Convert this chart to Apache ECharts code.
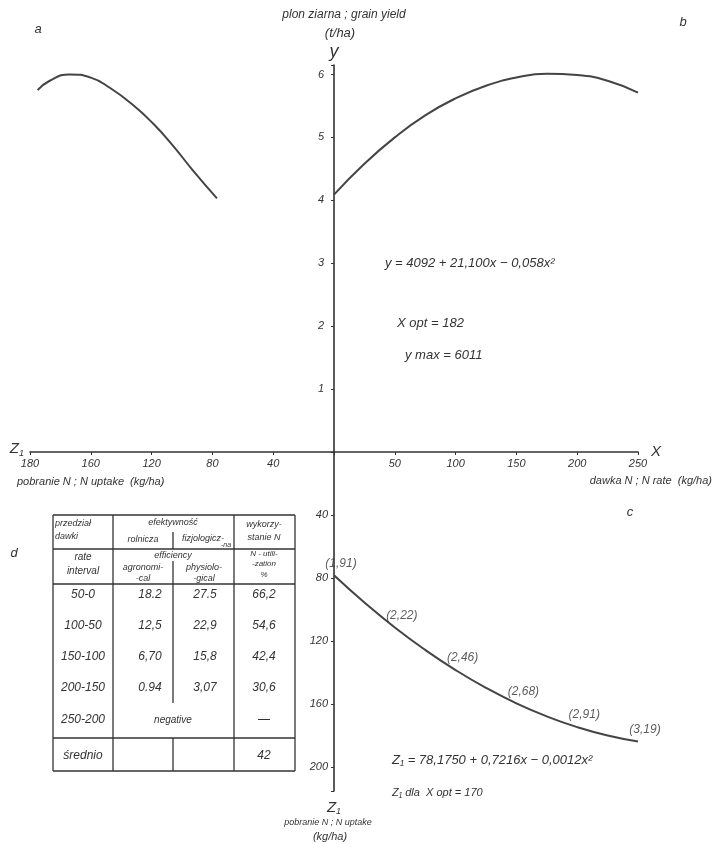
<!DOCTYPE html>
<html>
<head>
<meta charset="utf-8">
<script src="https://cdn.jsdelivr.net/npm/echarts@6/dist/echarts.min.js"></script>
<style>
html, body { margin: 0; padding: 0; background: #fff; }
#chart { width: 713px; height: 844px; }
</style>
</head>
<body>
<div id="chart"></div>
<script>
// b: grain yield (t/ha) against N rate (kg/ha)
const rateX = [0, 25, 50, 75, 100, 125, 150, 175, 200, 225, 250];
const yieldB = [4.09, 4.58, 5.00, 5.35, 5.62, 5.82, 5.95, 6.01, 5.99, 5.90, 5.71];
// a: grain yield against N uptake (kg/ha)
const uptakeA = [77, 93, 106, 119, 132, 147, 160, 174, 187, 195];
const yieldA = [4.03, 4.48, 4.87, 5.22, 5.51, 5.78, 5.95, 6.00, 5.90, 5.75];
// c: N uptake against N rate
const uptakeC = [78.2, 95.5, 111.3, 125.5, 138.3, 149.6, 159.4, 167.7, 174.5, 179.8, 183.6];
const markRate = [0, 50, 100, 150, 200, 250];
const markUptake = [78.2, 111.3, 138.3, 159.4, 174.5, 183.6];
const markText = ['(1,91)', '(2,22)', '(2,46)', '(2,68)', '(2,91)', '(3,19)'];
// tick labels
const yieldTicks = [1, 2, 3, 4, 5, 6];
const rateTicks = [50, 100, 150, 200, 250];
const uptakeTicks = [40, 80, 120, 160, 200];
const uptakeTickText = ['40', '80', '120', '160', '180'];
const zTicks = [40, 80, 120, 160, 200];
// d: table
const rateInterval = ['50-0', '100-50', '150-100', '200-150', '250-200'];
const agroEff = ['18.2', '12,5', '6,70', '0.94', ''];
const physEff = ['27.5', '22,9', '15,8', '3,07', ''];
const nUtil = ['66,2', '54,6', '42,4', '30,6', '—'];
const meanUtil = '42';

const FONT = 'Liberation Sans';
const INK = '#333';
const chart = echarts.init(document.getElementById('chart'));

function txt(x, y, text, size, align, extra) {
    return Object.assign({
        type: 'text',
        style: {
            x: x, y: y, text: text, fill: INK,
            font: 'italic ' + size + 'px "' + FONT + '"',
            align: align || 'center', verticalAlign: 'middle',
            textAlign: align || 'center', textVerticalAlign: 'middle'
        }
    }, extra || {});
}
function ln(x1, y1, x2, y2) {
    return { type: 'line', shape: { x1: x1, y1: y1, x2: x2, y2: y2 }, style: { stroke: INK, lineWidth: 1.3 } };
}
const zRich = { z: { fontSize: 15, fontStyle: 'italic', fontFamily: FONT, color: INK }, s: { fontSize: 9, fontStyle: 'italic', fontFamily: FONT, color: INK, padding: [8, 0, 0, 0] } };

// table d
const tL = 53, t1 = 113, tM = 173, t3 = 234, tR = 295;
const tTop = 515, tH1 = 549, tH2 = 584, tMean = 738, tBot = 771;
const rowY = [595, 626, 657, 688, 720];
const table = [
    ln(tL, tTop, tR, tTop), ln(tL, tH1, tR, tH1), ln(tL, tH2, tR, tH2), ln(tL, tMean, tR, tMean), ln(tL, tBot, tR, tBot),
    ln(tL, tTop, tL, tBot), ln(t1, tTop, t1, tBot), ln(t3, tTop, t3, tBot), ln(tR, tTop, tR, tBot),
    ln(tM, 532, tM, tH1), ln(tM, 561, tM, tH2), ln(tM, tH2, tM, 703), ln(tM, tMean, tM, tBot),
    txt(55, 523, 'przedział', 9, 'left'), txt(55, 536, 'dawki', 9, 'left'),
    txt(tM, 522, 'efektywność', 9), txt(143, 539, 'rolnicza', 9), txt(203, 538, 'fizjologicz-', 9), txt(226, 545, '-na', 7),
    txt(264, 524, 'wykorzy-', 9), txt(264, 537, 'stanie N', 9),
    txt(83, 557, 'rate', 10), txt(83, 571, 'interval', 10),
    txt(tM, 555, 'efficiency', 9), txt(143, 567, 'agronomi-', 9), txt(143, 578, '-cal', 9),
    txt(204, 567, 'physiolo-', 9), txt(204, 578, '-gical', 9),
    txt(264, 554, 'N - utili-', 8), txt(264, 564, '-zation', 8), txt(264, 575, '%', 8),
    txt(83, 756, 'średnio', 12), txt(264, 756, meanUtil, 12),
    txt(tM, 720, 'negative', 10)
];
rateInterval.forEach(function (r, i) {
    table.push(txt(83, rowY[i], r, 12));
    if (agroEff[i]) table.push(txt(150, rowY[i], agroEff[i], 12));
    if (physEff[i]) table.push(txt(205, rowY[i], physEff[i], 12));
    table.push(txt(264, rowY[i], nUtil[i], 12));
});

const labels = [
    txt(344, 15, 'plon ziarna ; grain yield', 12), txt(340, 33, '(t/ha)', 13),
    txt(38, 29, 'a', 13), txt(683, 22, 'b', 13), txt(630, 512, 'c', 13), txt(14, 553, 'd', 13),
    txt(385, 263, 'y = 4092 + 21,100x − 0,058x²', 13, 'left'),
    txt(397, 323, 'X opt = 182', 13, 'left'),
    txt(405, 355, 'y max = 6011', 13, 'left'),
    txt(17, 482, 'pobranie N ; N uptake  (kg/ha)', 11, 'left'),
    txt(712, 481, 'dawka N ; N rate  (kg/ha)', 11, 'right'),
    txt(392, 760, 'Z₁ = 78,1750 + 0,7216x − 0,0012x²', 13, 'left'),
    txt(392, 793, 'Z₁ dla  X opt = 170', 11, 'left'),
    txt(328, 822, 'pobranie N ; N uptake', 9), txt(330, 837, '(kg/ha)', 11)
];

const axisLine = { show: true, lineStyle: { color: INK, width: 1.6 } };
const axisTick = { show: true, length: 3, lineStyle: { color: INK } };
const labelStyle = { color: INK, fontSize: 11, fontStyle: 'italic', fontFamily: FONT };
function pick(ticks, text) {
    return function (v) { const i = ticks.indexOf(v); return i < 0 ? '' : (text ? text[i] : String(v)); };
}

chart.setOption({
    animation: false,
    backgroundColor: '#fff',
    grid: [
        { left: 30, top: 65, width: 304, height: 387 },
        { left: 334, top: 65, width: 304, height: 387 },
        { left: 334, top: 452, width: 304, height: 339 }
    ],
    xAxis: [
        {
            gridIndex: 0, type: 'value', inverse: true, min: 0, max: 200, interval: 40,
            axisLine: axisLine, axisTick: axisTick, splitLine: { show: false },
            axisLabel: Object.assign({ margin: 6, formatter: pick(uptakeTicks, uptakeTickText) }, labelStyle),
            name: '{z|Z}{s|1}', nameLocation: 'end', nameGap: 6,
            nameTextStyle: { rich: zRich, padding: [0, 0, 6, 0] }
        },
        {
            gridIndex: 1, type: 'value', min: 0, max: 250, interval: 50,
            axisLine: axisLine, axisTick: axisTick, splitLine: { show: false },
            axisLabel: Object.assign({ margin: 6, showMaxLabel: true, formatter: pick(rateTicks) }, labelStyle),
            name: 'X', nameLocation: 'end', nameGap: 8,
            nameTextStyle: { color: INK, fontSize: 15, fontStyle: 'italic', fontFamily: FONT, padding: [0, 0, 8, 0] }
        },
        { gridIndex: 2, type: 'value', min: 0, max: 250, show: false }
    ],
    yAxis: [
        { gridIndex: 0, type: 'value', min: 0, max: 6.15, show: false },
        {
            gridIndex: 1, type: 'value', min: 0, max: 6.15, interval: 1,
            axisLine: axisLine, axisTick: axisTick, splitLine: { show: false },
            axisLabel: Object.assign({ margin: 10, formatter: pick(yieldTicks) }, labelStyle),
            name: 'y', nameLocation: 'end', nameGap: 4,
            nameTextStyle: { color: INK, fontSize: 18, fontStyle: 'italic', fontFamily: FONT, align: 'center' }
        },
        {
            gridIndex: 2, type: 'value', inverse: true, min: 0, max: 215, interval: 40,
            axisLine: axisLine, axisTick: axisTick, splitLine: { show: false },
            axisLabel: Object.assign({ margin: 6, formatter: pick(zTicks) }, labelStyle),
            name: '{z|Z}{s|1}', nameLocation: 'end', nameGap: 8,
            nameTextStyle: { rich: zRich, align: 'center' }
        }
    ],
    series: [
        {
            type: 'line', xAxisIndex: 1, yAxisIndex: 1, smooth: true, showSymbol: false,
            lineStyle: { color: '#444', width: 2 },
            data: rateX.map(function (x, i) { return [x, yieldB[i]]; })
        },
        {
            type: 'line', xAxisIndex: 0, yAxisIndex: 0, smooth: true, showSymbol: false,
            lineStyle: { color: '#444', width: 2 },
            data: uptakeA.map(function (z, i) { return [z, yieldA[i]]; })
        },
        {
            type: 'line', xAxisIndex: 2, yAxisIndex: 2, smooth: true, showSymbol: false,
            lineStyle: { color: '#444', width: 2 },
            data: rateX.map(function (x, i) { return [x, uptakeC[i]]; })
        },
        {
            type: 'scatter', xAxisIndex: 2, yAxisIndex: 2, symbolSize: 0, silent: true,
            data: markRate.map(function (x, i) { return { name: markText[i], value: [x, markUptake[i]] }; }),
            label: {
                show: true, position: 'top', distance: 6, offset: [7, 0],
                formatter: function (p) { return p.name; },
                color: INK, fontSize: 12, fontStyle: 'italic', fontFamily: FONT
            }
        }
    ],
    graphic: { elements: table.concat(labels) }
});
</script>
</body>
</html>
